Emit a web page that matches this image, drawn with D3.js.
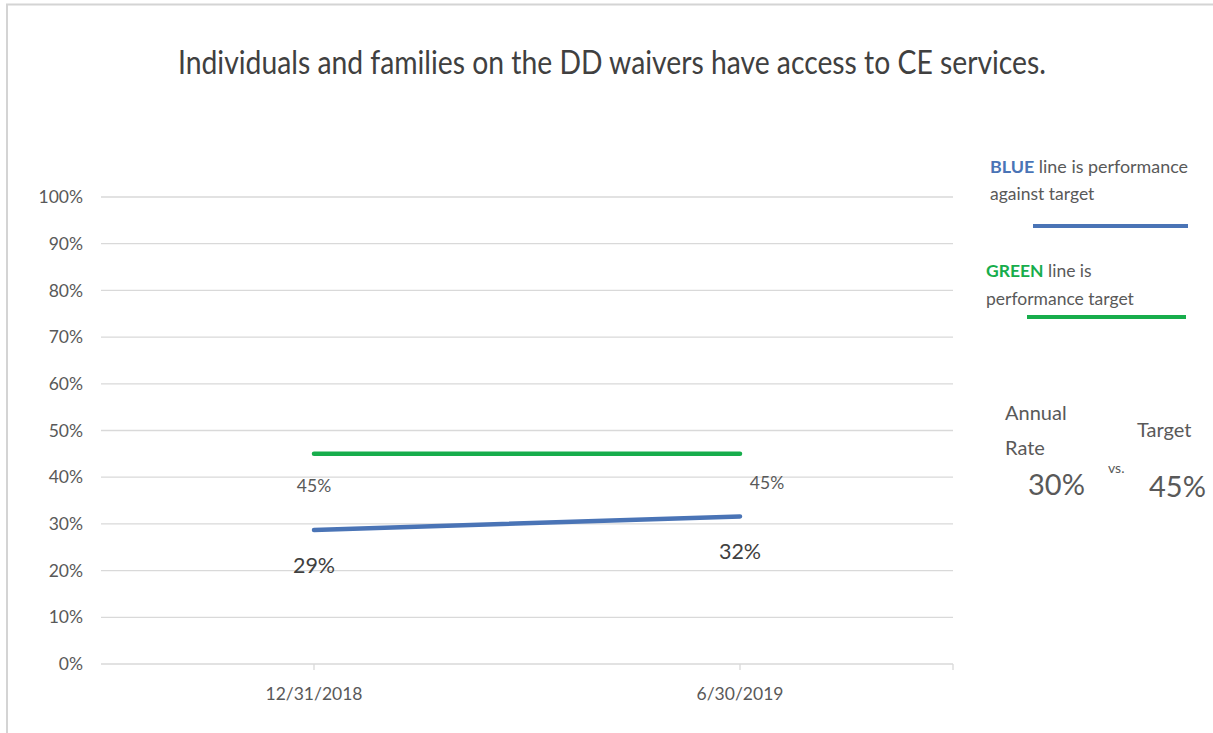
<!DOCTYPE html>
<html>
<head>
<meta charset="utf-8">
<script src="https://cdn.jsdelivr.net/npm/d3@7"></script>
<style>
  html, body { margin: 0; padding: 0; background: #fff; }
  svg { display: block; font-family: Lato, "Open Sans", sans-serif; }
</style>
</head>
<body>
<svg id="chart" width="1213" height="733"></svg>
<script>
// ---- data ----
const title = "Individuals and families on the DD waivers have access to CE services.";
const categories = ["12/31/2018", "6/30/2019"];
const performance = [0.287, 0.316];   // blue line
const target = [0.45, 0.45];          // green line
const performanceLabels = ["29%", "32%"];
const targetLabels = ["45%", "45%"];
const yTicks = [0, 0.1, 0.2, 0.3, 0.4, 0.5, 0.6, 0.7, 0.8, 0.9, 1.0];
const annualRate = "30%";
const annualTarget = "45%";

// ---- layout ----
const svg = d3.select("#chart");
const W = 1213, H = 733;
const plot = { left: 101, right: 953, top: 197, bottom: 664 };
const BLUE = "#4a74b6", GREEN = "#17ad4c", TXT = "#595959", GRID = "#d9d9d9";

// frame border
svg.append("rect").attr("x", 7).attr("y", 4.5).attr("width", W + 10).attr("height", H + 10)
  .attr("fill", "none").attr("stroke", "#d4d4d4").attr("stroke-width", 2);

// title
svg.append("text").attr("x", 178).attr("y", 74)
  .attr("textLength", 868).attr("lengthAdjust", "spacingAndGlyphs")
  .attr("font-size", 32).attr("fill", "#404040").text(title);

const x = d3.scaleBand().domain(categories).range([plot.left, plot.right]).padding(0);
const y = d3.scaleLinear().domain([0, 1]).range([plot.bottom, plot.top]);
const cx = d => x(d) + x.bandwidth() / 2;

// gridlines
svg.append("g").selectAll("line").data(yTicks.filter(t => t > 0)).join("line")
  .attr("x1", plot.left).attr("x2", plot.right)
  .attr("y1", d => y(d)).attr("y2", d => y(d))
  .attr("stroke", GRID).attr("stroke-width", 1.3);

// y axis labels
const yAxis = d3.axisLeft(y).tickValues(yTicks).tickFormat(d3.format(".0%")).tickSize(0).tickPadding(18);
const yg = svg.append("g").attr("transform", `translate(${plot.left},0)`).call(yAxis);
yg.select(".domain").remove();
yg.selectAll("text").attr("font-size", 17.5).attr("fill", TXT).attr("font-family", "Lato, 'Open Sans', sans-serif");

// x axis
const xAxis = d3.axisBottom(x).tickSize(0).tickPadding(24);
const xg = svg.append("g").attr("transform", `translate(0,${plot.bottom})`).call(xAxis);
xg.select(".domain").attr("stroke", GRID).attr("stroke-width", 1.3).attr("d", `M${plot.left},0H${plot.right}`);
xg.selectAll("text").attr("font-size", 17.5).attr("fill", TXT).attr("font-family", "Lato, 'Open Sans', sans-serif");
// tick marks at category centres and right end
const tickXs = categories.map(cx).concat([plot.right]);
xg.selectAll("line.tk").data(tickXs).join("line").attr("class", "tk")
  .attr("x1", d => d).attr("x2", d => d).attr("y1", 0).attr("y2", 6)
  .attr("stroke", GRID).attr("stroke-width", 1.3);

// lines
const line = d3.line().x((d, i) => cx(categories[i])).y(d => y(d));
svg.append("path").datum(target).attr("d", line)
  .attr("fill", "none").attr("stroke", GREEN).attr("stroke-width", 4.5).attr("stroke-linecap", "round");
svg.append("path").datum(performance).attr("d", line)
  .attr("fill", "none").attr("stroke", BLUE).attr("stroke-width", 4.5).attr("stroke-linecap", "round");

// data labels
const tgtOffsets = [{dx: 0, dy: 38}, {dx: 27, dy: 35}];
svg.append("g").selectAll("text").data(targetLabels).join("text")
  .attr("x", (d, i) => cx(categories[i]) + tgtOffsets[i].dx)
  .attr("y", (d, i) => y(target[i]) + tgtOffsets[i].dy)
  .attr("text-anchor", "middle").attr("font-size", 17.5).attr("fill", TXT).text(d => d);
const perfOffsets = [{dx: 0, dy: 43}, {dx: 0, dy: 43}];
svg.append("g").selectAll("text").data(performanceLabels).join("text")
  .attr("x", (d, i) => cx(categories[i]) + perfOffsets[i].dx)
  .attr("y", (d, i) => y(performance[i]) + perfOffsets[i].dy)
  .attr("text-anchor", "middle").attr("font-size", 21.5).attr("fill", "#404040").text(d => d);

// legend
const lg = svg.append("g").attr("font-size", 17.5);
const t1 = lg.append("text").attr("x", 990).attr("y", 173).attr("fill", TXT)
  .attr("textLength", 198).attr("lengthAdjust", "spacingAndGlyphs");
t1.append("tspan").attr("fill", BLUE).attr("font-weight", "bold").text("BLUE");
t1.append("tspan").text(" line is performance");
lg.append("text").attr("x", 990).attr("y", 200).attr("fill", TXT).text("against target");
lg.append("line").attr("x1", 1033).attr("x2", 1188).attr("y1", 226).attr("y2", 226)
  .attr("stroke", BLUE).attr("stroke-width", 4);
const t2 = lg.append("text").attr("x", 986).attr("y", 277).attr("fill", TXT);
t2.append("tspan").attr("fill", GREEN).attr("font-weight", "bold").text("GREEN");
t2.append("tspan").text(" line is");
lg.append("text").attr("x", 986).attr("y", 305).attr("fill", TXT).text("performance target");
lg.append("line").attr("x1", 1027).attr("x2", 1186).attr("y1", 317).attr("y2", 317)
  .attr("stroke", GREEN).attr("stroke-width", 4);

// annual rate vs target
const ag = svg.append("g").attr("fill", TXT);
ag.append("text").attr("x", 1005).attr("y", 420).attr("font-size", 20).text("Annual");
ag.append("text").attr("x", 1005).attr("y", 455).attr("font-size", 20).text("Rate");
ag.append("text").attr("x", 1028).attr("y", 495).attr("font-size", 29).text(annualRate);
ag.append("text").attr("x", 1108).attr("y", 473).attr("font-size", 14).text("vs.");
ag.append("text").attr("x", 1137).attr("y", 437).attr("font-size", 20).text("Target");
ag.append("text").attr("x", 1149).attr("y", 497).attr("font-size", 29).text(annualTarget);
</script>
</body>
</html>
